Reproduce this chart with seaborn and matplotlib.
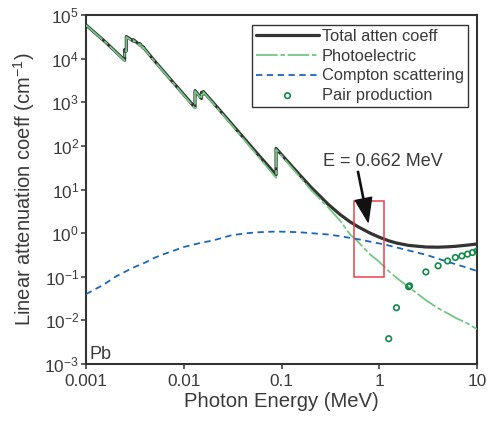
import numpy as np
import pandas as pd
import matplotlib
matplotlib.use("Agg")
import matplotlib.pyplot as plt
import seaborn as sns
from matplotlib.patches import Rectangle

# ---------------- data (linear attenuation, cm^-1, lead) ----------------
total_E = [0.001, 0.0015, 0.002, 0.002484, 0.002484, 0.002586, 0.002586, 0.003,
           0.003066, 0.003066, 0.003554, 0.003554, 0.003851, 0.003851, 0.004,
           0.005, 0.006, 0.008, 0.01, 0.013035, 0.013035, 0.015, 0.0152, 0.0152,
           0.01586, 0.01586, 0.02, 0.03, 0.04, 0.05, 0.06, 0.08, 0.088, 0.088,
           0.1, 0.15, 0.2, 0.3, 0.4, 0.5, 0.6, 0.8, 1.0, 1.25, 1.5, 2.0, 3.0,
           4.0, 5.0, 6.0, 8.0, 10.0]
total_mu = [5.9e4, 2.67e4, 1.46e4, 9.2e3, 1.6e4, 1.5e4, 3.2e4, 2.6e4,
            2.5e4, 2.7e4, 2.05e4, 2.2e4, 1.75e4, 1.85e4, 1.65e4,
            9.0e3, 5.6e3, 2.65e3, 1.5e3, 757, 1840, 1266, 1224, 1685,
            1525, 1757, 980, 344, 163, 91.3, 57.0, 27.5, 21.7, 87.2,
            63.0, 22.9, 11.3, 4.58, 2.64, 1.83, 1.42, 1.007, 0.806, 0.667, 0.593, 0.523, 0.481,
            0.476, 0.485, 0.498, 0.531, 0.564]

photo_E = total_E
photo_mu = [5.85e4, 2.64e4, 1.44e4, 9.0e3, 1.56e4, 1.47e4, 3.13e4, 2.5e4,
            2.44e4, 2.64e4, 2.0e4, 2.15e4, 1.71e4, 1.81e4, 1.61e4,
            8.8e3, 5.45e3, 2.58e3, 1.45e3, 720, 1800, 1230, 1190, 1640,
            1480, 1710, 940, 325, 152, 84.0, 51.5, 24.0, 18.5, 83.5,
            59.5, 20.8, 9.8, 3.9, 1.9, 0.95, 0.65, 0.33, 0.22, 0.135, 0.095, 0.058, 0.029,
            0.019, 0.0145, 0.0115, 0.0085, 0.0063]

compton_E = [0.001, 0.0015, 0.002, 0.003, 0.004, 0.005, 0.006, 0.008, 0.01, 0.015,
             0.02, 0.03, 0.04, 0.05, 0.06, 0.08, 0.1, 0.15, 0.2, 0.3, 0.4, 0.5,
             0.6, 0.8, 1.0, 1.25, 1.5, 2.0, 3.0, 4.0, 5.0, 6.0, 8.0, 10.0]
compton_mu = [0.04, 0.065, 0.10, 0.16, 0.21, 0.27, 0.32, 0.40, 0.48, 0.60,
              0.68, 0.88, 0.97, 1.02, 1.05, 1.08, 1.08, 1.05, 1.0, 0.93, 0.85, 0.78,
              0.73, 0.64, 0.58, 0.52, 0.47, 0.40, 0.32, 0.26, 0.22, 0.195, 0.16, 0.135]

pair_E = [1.25, 1.5, 2.0, 2.044, 3.0, 4.0, 5.0, 6.0, 7.0, 8.0, 9.0, 10.0]
pair_mu = [0.0038, 0.0195, 0.059, 0.062, 0.129, 0.178, 0.23, 0.276, 0.30, 0.33, 0.36, 0.39]

xtick_vals = [0.001, 0.01, 0.1, 1, 10]
xtick_labels = ["0.001", "0.01", "0.1", "1", "10"]
ytick_exps = [-3, -2, -1, 0, 1, 2, 3, 4, 5]

series_labels = ["Total atten coeff", "Photoelectric", "Compton scattering", "Pair production"]
annot_text = "E = 0.662 MeV"
element = "Pb"

# ---------------- style ----------------
sns.set_theme(style="ticks")
plt.rcParams["font.family"] = ["Liberation Sans", "DejaVu Sans"]
plt.rcParams["mathtext.fontset"] = "custom"
plt.rcParams["mathtext.rm"] = "Liberation Sans"
plt.rcParams["mathtext.it"] = "Liberation Sans"
plt.rcParams["mathtext.bf"] = "Liberation Sans"

TXT = "#3a3a3a"
SP = "#333333"
C_TOTAL = "#333333"
C_PHOTO = "#74c685"
C_COMP = "#1d66b8"
C_PAIR = "#13894b"
C_BOX = "#e8404c"

fig = plt.figure(figsize=(4.9, 4.25), dpi=100)
ax = fig.add_axes([86 / 490, 1 - 364 / 425, (477 - 86) / 490, (364 - 15) / 425])

df_total = pd.DataFrame({"E": total_E, "mu": total_mu})
df_photo = pd.DataFrame({"E": photo_E, "mu": photo_mu})
df_comp = pd.DataFrame({"E": compton_E, "mu": compton_mu})
df_pair = pd.DataFrame({"E": pair_E, "mu": pair_mu})

sns.lineplot(data=df_total, x="E", y="mu", ax=ax, estimator=None, sort=False,
             color=C_TOTAL, lw=2.3, label=series_labels[0], zorder=3)
sns.lineplot(data=df_photo, x="E", y="mu", ax=ax, estimator=None, sort=False,
             color=C_PHOTO, lw=1.3, linestyle=(0, (12, 1.5, 2.5, 1.5)),
             label=series_labels[1], zorder=4)
sns.lineplot(data=df_comp, x="E", y="mu", ax=ax, estimator=None, sort=False,
             color=C_COMP, lw=1.3, linestyle=(0, (3.5, 2.5)),
             label=series_labels[2], zorder=4)
sns.scatterplot(data=df_pair, x="E", y="mu", ax=ax, marker="o", s=16,
                facecolor="none", edgecolor=C_PAIR, linewidth=1.2,
                label=series_labels[3], zorder=5)

ax.set_xscale("log")
ax.set_yscale("log")
ax.set_xlim(1e-3, 10)
ax.set_ylim(1e-3, 1e5)
ax.set_xticks(xtick_vals)
ax.set_xticklabels(xtick_labels)
ax.set_yticks([10.0 ** k for k in ytick_exps])
ax.set_yticklabels([r"$\mathdefault{10^{%d}}$" % k for k in ytick_exps])
ax.minorticks_off()

ax.tick_params(axis="both", which="major", direction="out", length=3.5, width=1.1,
               color=SP, labelcolor=TXT, labelsize=12.4)
ax.tick_params(axis="x", pad=4)
ax.tick_params(axis="y", pad=1.5)
for s in ax.spines.values():
    s.set_visible(True)
    s.set_color(SP)
    s.set_linewidth(1.5)

ax.set_xlabel("Photon Energy (MeV)", fontsize=14.6, color=TXT, labelpad=2)
ax.set_ylabel(r"Linear attenuation coeff (cm$^{-1}$)", fontsize=14.5, color=TXT, labelpad=5)

# red box and annotation
ax.add_patch(Rectangle((0.55, 0.1), 1.13 - 0.55, 5.5 - 0.1, fill=False,
                       edgecolor=C_BOX, lw=1.1, zorder=6))
ax.text(0.265, 43, annot_text, fontsize=13, color=TXT, ha="left", va="center")
ax.annotate("", xy=(0.77, 1.8), xytext=(0.605, 26),
            arrowprops=dict(facecolor="#111111", edgecolor="#111111", width=0.9,
                            headwidth=12, headlength=17, shrink=0.0), zorder=7)
ax.text(0.00108, 0.00165, element, fontsize=13, color=TXT, ha="left", va="center")

leg = ax.legend(loc="upper right", bbox_to_anchor=(0.977, 0.971), borderaxespad=0,
                frameon=True, fancybox=False, framealpha=1, edgecolor=SP,
                fontsize=11.8, handlelength=3.8, handletextpad=0.2,
                labelspacing=0.28, borderpad=0.25, markerscale=1.0)
leg.get_frame().set_linewidth(1.0)
for t in leg.get_texts():
    t.set_color(TXT)

fig.savefig("out.png", dpi=100)
